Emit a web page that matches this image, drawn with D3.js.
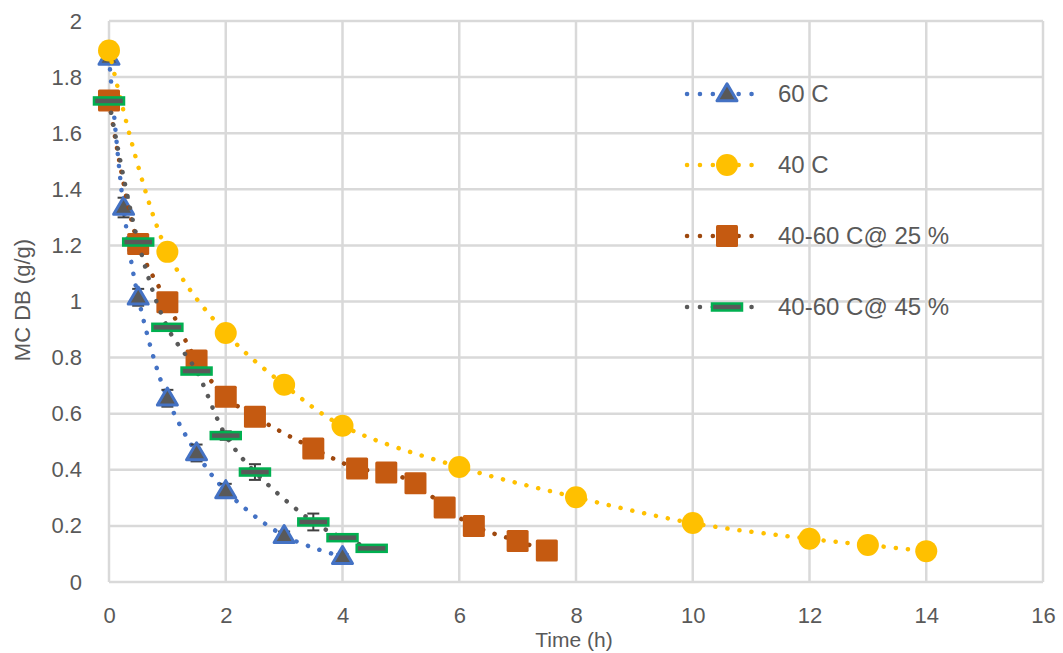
<!DOCTYPE html>
<html><head><meta charset="utf-8">
<script src="https://cdn.jsdelivr.net/npm/d3@7"></script>
<style>html,body{margin:0;padding:0;background:#fff;}</style>
</head><body>
<svg id="chart" width="1063" height="653"></svg>
<script>
// ---- data ----
const xTicks = [0, 2, 4, 6, 8, 10, 12, 14, 16];
const yTicks = [0, 0.2, 0.4, 0.6, 0.8, 1, 1.2, 1.4, 1.6, 1.8, 2];

const t60  = [0, 0.25, 0.5, 1, 1.5, 2, 3, 4];
const mc60 = [1.87, 1.335, 1.015, 0.655, 0.46, 0.325, 0.165, 0.09];
const err60 = [0.01, 0.035, 0.03, 0.03, 0.03, 0.025, 0.015, 0.01];

const t40  = [0, 1, 2, 3, 4, 6, 8, 10, 12, 13, 14];
const mc40 = [1.895, 1.177, 0.888, 0.703, 0.557, 0.41, 0.302, 0.21, 0.154, 0.132, 0.11];

const t25  = [0, 0.5, 1, 1.5, 2, 2.5, 3.5, 4.25, 4.75, 5.25, 5.75, 6.25, 7, 7.5];
const mc25 = [1.717, 1.205, 0.997, 0.79, 0.66, 0.589, 0.476, 0.405, 0.39, 0.352, 0.266, 0.2, 0.146, 0.112];

const t45  = [0, 0.5, 1, 1.5, 2, 2.5, 3.5, 4, 4.5];
const mc45 = [1.715, 1.212, 0.908, 0.752, 0.522, 0.392, 0.214, 0.158, 0.12];
const err45 = [0.01, 0.01, 0.01, 0.01, 0.015, 0.028, 0.03, 0.01, 0.005];

const seriesNames = ["60 C", "40 C", "40-60 C@ 25 %", "40-60 C@ 45 %"];

// ---- layout ----
const svg = d3.select("#chart");
const L = 109, R = 1043, T = 21, B = 582;
const x = d3.scaleLinear().domain([0, 16]).range([L, R]);
const y = d3.scaleLinear().domain([0, 2]).range([B, T]);
const font = "'Liberation Sans', Arial, sans-serif";
const txt = "#595959";

// gridlines
const grid = svg.append("g").attr("stroke", "#d9d9d9").attr("stroke-width", 2.5);
grid.selectAll("line.h").data(yTicks).join("line")
  .attr("x1", L).attr("x2", R).attr("y1", d => y(d)).attr("y2", d => y(d));
grid.selectAll("line.v").data(xTicks).join("line")
  .attr("y1", T).attr("y2", B).attr("x1", d => x(d)).attr("x2", d => x(d));

// axes labels via d3 axes
const xAxis = svg.append("g").attr("transform", `translate(0,${B})`)
  .call(d3.axisBottom(x).tickValues(xTicks).tickSize(0).tickPadding(25).tickFormat(d3.format("d")));
const yAxis = svg.append("g").attr("transform", `translate(${L},0)`)
  .call(d3.axisLeft(y).tickValues(yTicks).tickSize(0).tickPadding(27).tickFormat(d => String(+d.toFixed(1))));
[xAxis, yAxis].forEach(a => {
  a.select(".domain").remove();
  a.selectAll("text").attr("font-family", font).attr("font-size", 22).attr("fill", txt);
});

// axis titles
svg.append("text").attr("x", 574).attr("y", 647).attr("text-anchor", "middle")
  .attr("font-family", font).attr("font-size", 21).attr("fill", txt).text("Time (h)");
svg.append("text").attr("transform", "translate(30,300) rotate(-90)").attr("text-anchor", "middle")
  .attr("font-family", font).attr("font-size", 22).attr("fill", txt).text("MC DB (g/g)");

// ---- series ----
const series = [
  {name: seriesNames[0], t: t60, v: mc60, err: err60, line: "#4472C4", marker: "tri"},
  {name: seriesNames[1], t: t40, v: mc40, err: null, line: "#FFC000", marker: "circle"},
  {name: seriesNames[2], t: t25, v: mc25, err: null, line: "#9E480E", marker: "square"},
  {name: seriesNames[3], t: t45, v: mc45, err: err45, line: "#595959", marker: "dash"}
];

function drawMarker(g, type, cx, cy) {
  if (type === "tri") {
    const w = 20, h = 17;
    g.append("path").attr("d", `M${cx},${cy - h * 0.6} L${cx + w / 2},${cy + h * 0.4} L${cx - w / 2},${cy + h * 0.4} Z`)
      .attr("fill", "#595959").attr("stroke", "#4472C4").attr("stroke-width", 3).attr("stroke-linejoin", "round");
  } else if (type === "circle") {
    g.append("circle").attr("cx", cx).attr("cy", cy).attr("r", 11).attr("fill", "#FFC000");
  } else if (type === "square") {
    g.append("rect").attr("x", cx - 11).attr("y", cy - 11).attr("width", 22).attr("height", 22)
      .attr("rx", 1.5).attr("fill", "#C55A11");
  } else if (type === "dash") {
    g.append("rect").attr("x", cx - 15).attr("y", cy - 3.5).attr("width", 30).attr("height", 7)
      .attr("fill", "#595959").attr("stroke", "#00B050").attr("stroke-width", 2.5);
  }
}

const lineGen = d3.line().x(d => x(d[0])).y(d => y(d[1])).curve(d3.curveCatmullRom.alpha(0.5));

series.forEach(s => {
  const g = svg.append("g");
  const pts = s.t.map((t, i) => [t, s.v[i]]);
  g.append("path").attr("d", lineGen(pts)).attr("fill", "none")
    .attr("stroke", s.line).attr("stroke-width", 4.5).attr("stroke-linecap", "round")
    .attr("stroke-dasharray", "0.1 12");
  if (s.err) {
    const eg = g.append("g").attr("stroke", "#404040").attr("stroke-width", 2);
    pts.forEach((p, i) => {
      const e = s.err[i], cx = x(p[0]);
      eg.append("line").attr("x1", cx).attr("x2", cx).attr("y1", y(p[1] + e)).attr("y2", y(p[1] - e));
      eg.append("line").attr("x1", cx - 6).attr("x2", cx + 6).attr("y1", y(p[1] + e)).attr("y2", y(p[1] + e));
      eg.append("line").attr("x1", cx - 6).attr("x2", cx + 6).attr("y1", y(p[1] - e)).attr("y2", y(p[1] - e));
    });
  }
  pts.forEach(p => drawMarker(g, s.marker, x(p[0]), y(p[1])));
});

// ---- legend ----
const legY = [94, 165, 236, 307];
series.forEach((s, i) => {
  const g = svg.append("g");
  const ly = legY[i];
  g.append("line").attr("x1", 687).attr("x2", 764).attr("y1", ly).attr("y2", ly)
    .attr("stroke", s.line).attr("stroke-width", 4.5).attr("stroke-linecap", "round")
    .attr("stroke-dasharray", "0.1 12.8");
  drawMarker(g, s.marker, 727, ly);
  g.append("text").attr("x", 778).attr("y", ly).attr("dy", "0.35em")
    .attr("font-family", font).attr("font-size", 24).attr("fill", txt).text(s.name);
});
</script>
</body></html>
